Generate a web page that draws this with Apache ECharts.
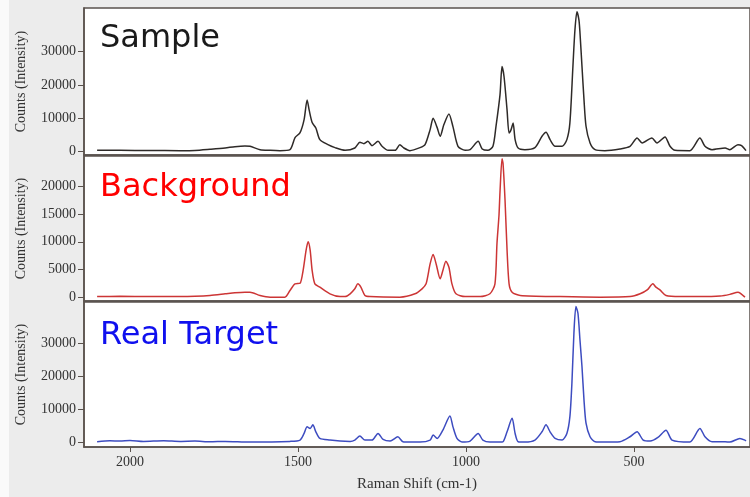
<!DOCTYPE html>
<html><head><meta charset="utf-8">
<script src="https://cdn.jsdelivr.net/npm/echarts@6/dist/echarts.min.js"></script>
<style>
html,body{margin:0;padding:0;background:#fff}
#c{width:750px;height:497px;background:linear-gradient(to right,#fafafa 0,#fafafa 9px,#ececec 9px)}
</style>
</head><body><div id="c"></div>
<script>
// [Raman shift (cm-1), counts]
const sampleSpectrum = [[2098,400],[2030,400],[1941,350],[1851,300],[1807,350],[1762,700],[1717,1100],[1688,1500],[1658,1700],[1643,1600],[1613,600],[1583,400],[1554,300],[1524,600],[1509,4200],[1494,5700],[1482,9600],[1473,15500],[1467,12500],[1458,8700],[1447,7100],[1435,3600],[1411,2100],[1390,1200],[1360,400],[1331,1100],[1316,2800],[1304,2400],[1292,3100],[1280,1800],[1262,3100],[1250,1600],[1232,400],[1211,400],[1197,2100],[1185,1100],[1167,300],[1137,1200],[1122,2100],[1107,6600],[1098,10000],[1086,7200],[1077,4600],[1066,8100],[1051,11300],[1039,7500],[1024,1600],[1003,400],[988,600],[964,3100],[952,800],[935,400],[920,1600],[911,7500],[899,17000],[893,25500],[887,22500],[878,12500],[872,5600],[866,6600],[860,8600],[854,3600],[845,1100],[825,600],[795,1200],[774,4600],[762,5800],[750,3600],[735,1600],[714,1600],[700,3600],[691,8600],[682,25500],[676,36400],[670,41900],[664,39400],[661,35600],[655,25500],[649,15500],[643,7600],[631,2600],[616,600],[587,300],[542,800],[512,1600],[491,4100],[476,2600],[447,4100],[432,2600],[408,4400],[393,1600],[378,400],[334,300],[304,4100],[289,1600],[268,600],[229,1100],[215,600],[191,2100],[180,1800],[167,300]];
const backgroundSpectrum = [[2098,100],[2030,150],[1941,100],[1851,100],[1807,150],[1762,300],[1717,600],[1688,800],[1658,900],[1643,900],[1613,300],[1583,0],[1539,0],[1524,1200],[1509,2400],[1494,2500],[1485,4800],[1476,8500],[1470,10000],[1464,8500],[1458,4800],[1450,2400],[1435,1800],[1405,600],[1375,100],[1360,100],[1345,600],[1331,1500],[1322,2400],[1313,1800],[1301,300],[1286,100],[1197,0],[1152,600],[1131,1500],[1119,2400],[1107,6000],[1098,7700],[1089,6000],[1077,3300],[1069,4800],[1060,6500],[1051,5400],[1042,2400],[1030,600],[1003,100],[958,100],[929,600],[914,2400],[908,9700],[902,14800],[899,19000],[893,25000],[890,24200],[884,17500],[878,8500],[872,2400],[863,900],[839,300],[720,100],[601,0],[512,100],[482,600],[461,1300],[444,2400],[435,1800],[423,1300],[405,300],[363,100],[304,100],[244,200],[215,500],[191,900],[170,0]];
const targetSpectrum = [[2098,100],[2060,400],[2030,300],[2000,500],[1960,200],[1900,400],[1851,200],[1807,300],[1762,100],[1717,200],[1643,0],[1524,200],[1494,600],[1482,2600],[1473,4600],[1464,4100],[1456,5200],[1447,3100],[1435,1100],[1405,600],[1375,300],[1345,200],[1331,600],[1316,1800],[1301,600],[1280,600],[1262,2600],[1247,800],[1226,300],[1203,1600],[1188,100],[1167,0],[1137,0],[1107,600],[1098,2100],[1086,1100],[1069,3600],[1048,7900],[1039,4600],[1027,1100],[1012,0],[988,300],[964,2600],[950,600],[929,0],[899,0],[890,100],[878,3100],[863,7200],[854,2600],[845,100],[825,0],[795,600],[774,3100],[762,5200],[750,3100],[735,1100],[714,600],[700,2600],[691,7700],[685,17800],[679,33000],[673,41000],[667,39000],[661,30900],[655,22800],[649,12700],[643,5700],[631,1600],[616,100],[587,0],[542,100],[512,1600],[491,3100],[473,600],[452,300],[429,1400],[405,3600],[387,600],[334,0],[304,4100],[289,1600],[268,100],[229,100],[215,0],[185,1100],[170,600],[167,300]];

const shiftTicks = [2000, 1500, 1000, 500];
const sampleTicks = [0, 10000, 20000, 30000];
const backgroundTicks = [0, 5000, 10000, 15000, 20000];
const targetTicks = [0, 10000, 20000, 30000];
const panelTitles = ['Sample', 'Background', 'Real Target'];
const xAxisTitle = 'Raman Shift (cm-1)';
const yAxisTitle = 'Counts (Intensity)';

const axisColor = '#5a524d';
const textColor = '#333';
const serif = 'Liberation Serif';
const plain = v => String(v);

const panels = [
  {top: 8, height: 147, min: -1000, max: 43000, ticks: sampleTicks, data: sampleSpectrum, color: '#2e2a28', title: panelTitles[0], titleColor: '#1a1a1a', titleTop: 23},
  {top: 156, height: 145, min: -700, max: 25500, ticks: backgroundTicks, data: backgroundSpectrum, color: '#cc3535', title: panelTitles[1], titleColor: '#ff0000', titleTop: 172},
  {top: 302, height: 145, min: -1500, max: 42400, ticks: targetTicks, data: targetSpectrum, color: '#3d4cc0', title: panelTitles[2], titleColor: '#1010ee', titleTop: 320}
];

const chart = echarts.init(document.getElementById('c'), null, {renderer: 'canvas'});
const option = {
  animation: false,
  backgroundColor: 'transparent',
  grid: panels.map(p => ({left: 84, width: 666, top: p.top, height: p.height, show: true, backgroundColor: '#fff', borderColor: axisColor, borderWidth: 1.5})),
  xAxis: panels.map((p, i) => {
    const last = i === panels.length - 1;
    return {
      type: 'value', gridIndex: i, inverse: true, min: 155, max: 2137,
      splitLine: {show: false},
      axisLine: {show: true, onZero: false, lineStyle: {color: axisColor, width: 1.5}},
      axisTick: {show: last, inside: false, length: 5, customValues: shiftTicks, lineStyle: {color: axisColor}},
      axisLabel: {show: last, customValues: shiftTicks, formatter: plain, margin: 8, fontFamily: serif, fontSize: 14, color: textColor},
      name: last ? xAxisTitle : '', nameLocation: 'middle', nameGap: 30,
      nameTextStyle: {fontFamily: serif, fontSize: 15, color: textColor}
    };
  }),
  yAxis: panels.map((p, i) => ({
    type: 'value', gridIndex: i, min: p.min, max: p.max,
    splitLine: {show: false},
    axisLine: {show: true, onZero: false, lineStyle: {color: axisColor, width: 1.5}},
    axisTick: {show: true, inside: false, length: 6, customValues: p.ticks, lineStyle: {color: axisColor}},
    axisLabel: {customValues: p.ticks, formatter: plain, margin: 8, fontFamily: serif, fontSize: 14, color: textColor},
    name: yAxisTitle, nameLocation: 'middle', nameRotate: 90, nameGap: 56,
    nameTextStyle: {fontFamily: serif, fontSize: 14, color: textColor}
  })),
  series: panels.map((p, i) => ({
    type: 'line', xAxisIndex: i, yAxisIndex: i, data: p.data,
    showSymbol: false, symbol: 'none', smooth: 0.25, clip: true,
    lineStyle: {color: p.color, width: 1.5}
  })),
  graphic: panels.map(p => ({
    type: 'text', left: 100, top: p.titleTop, z: 100,
    style: {text: p.title, fontFamily: 'DejaVu Sans', fontSize: 32, fill: p.titleColor}
  }))
};
chart.setOption(option);
</script>
</body></html>
